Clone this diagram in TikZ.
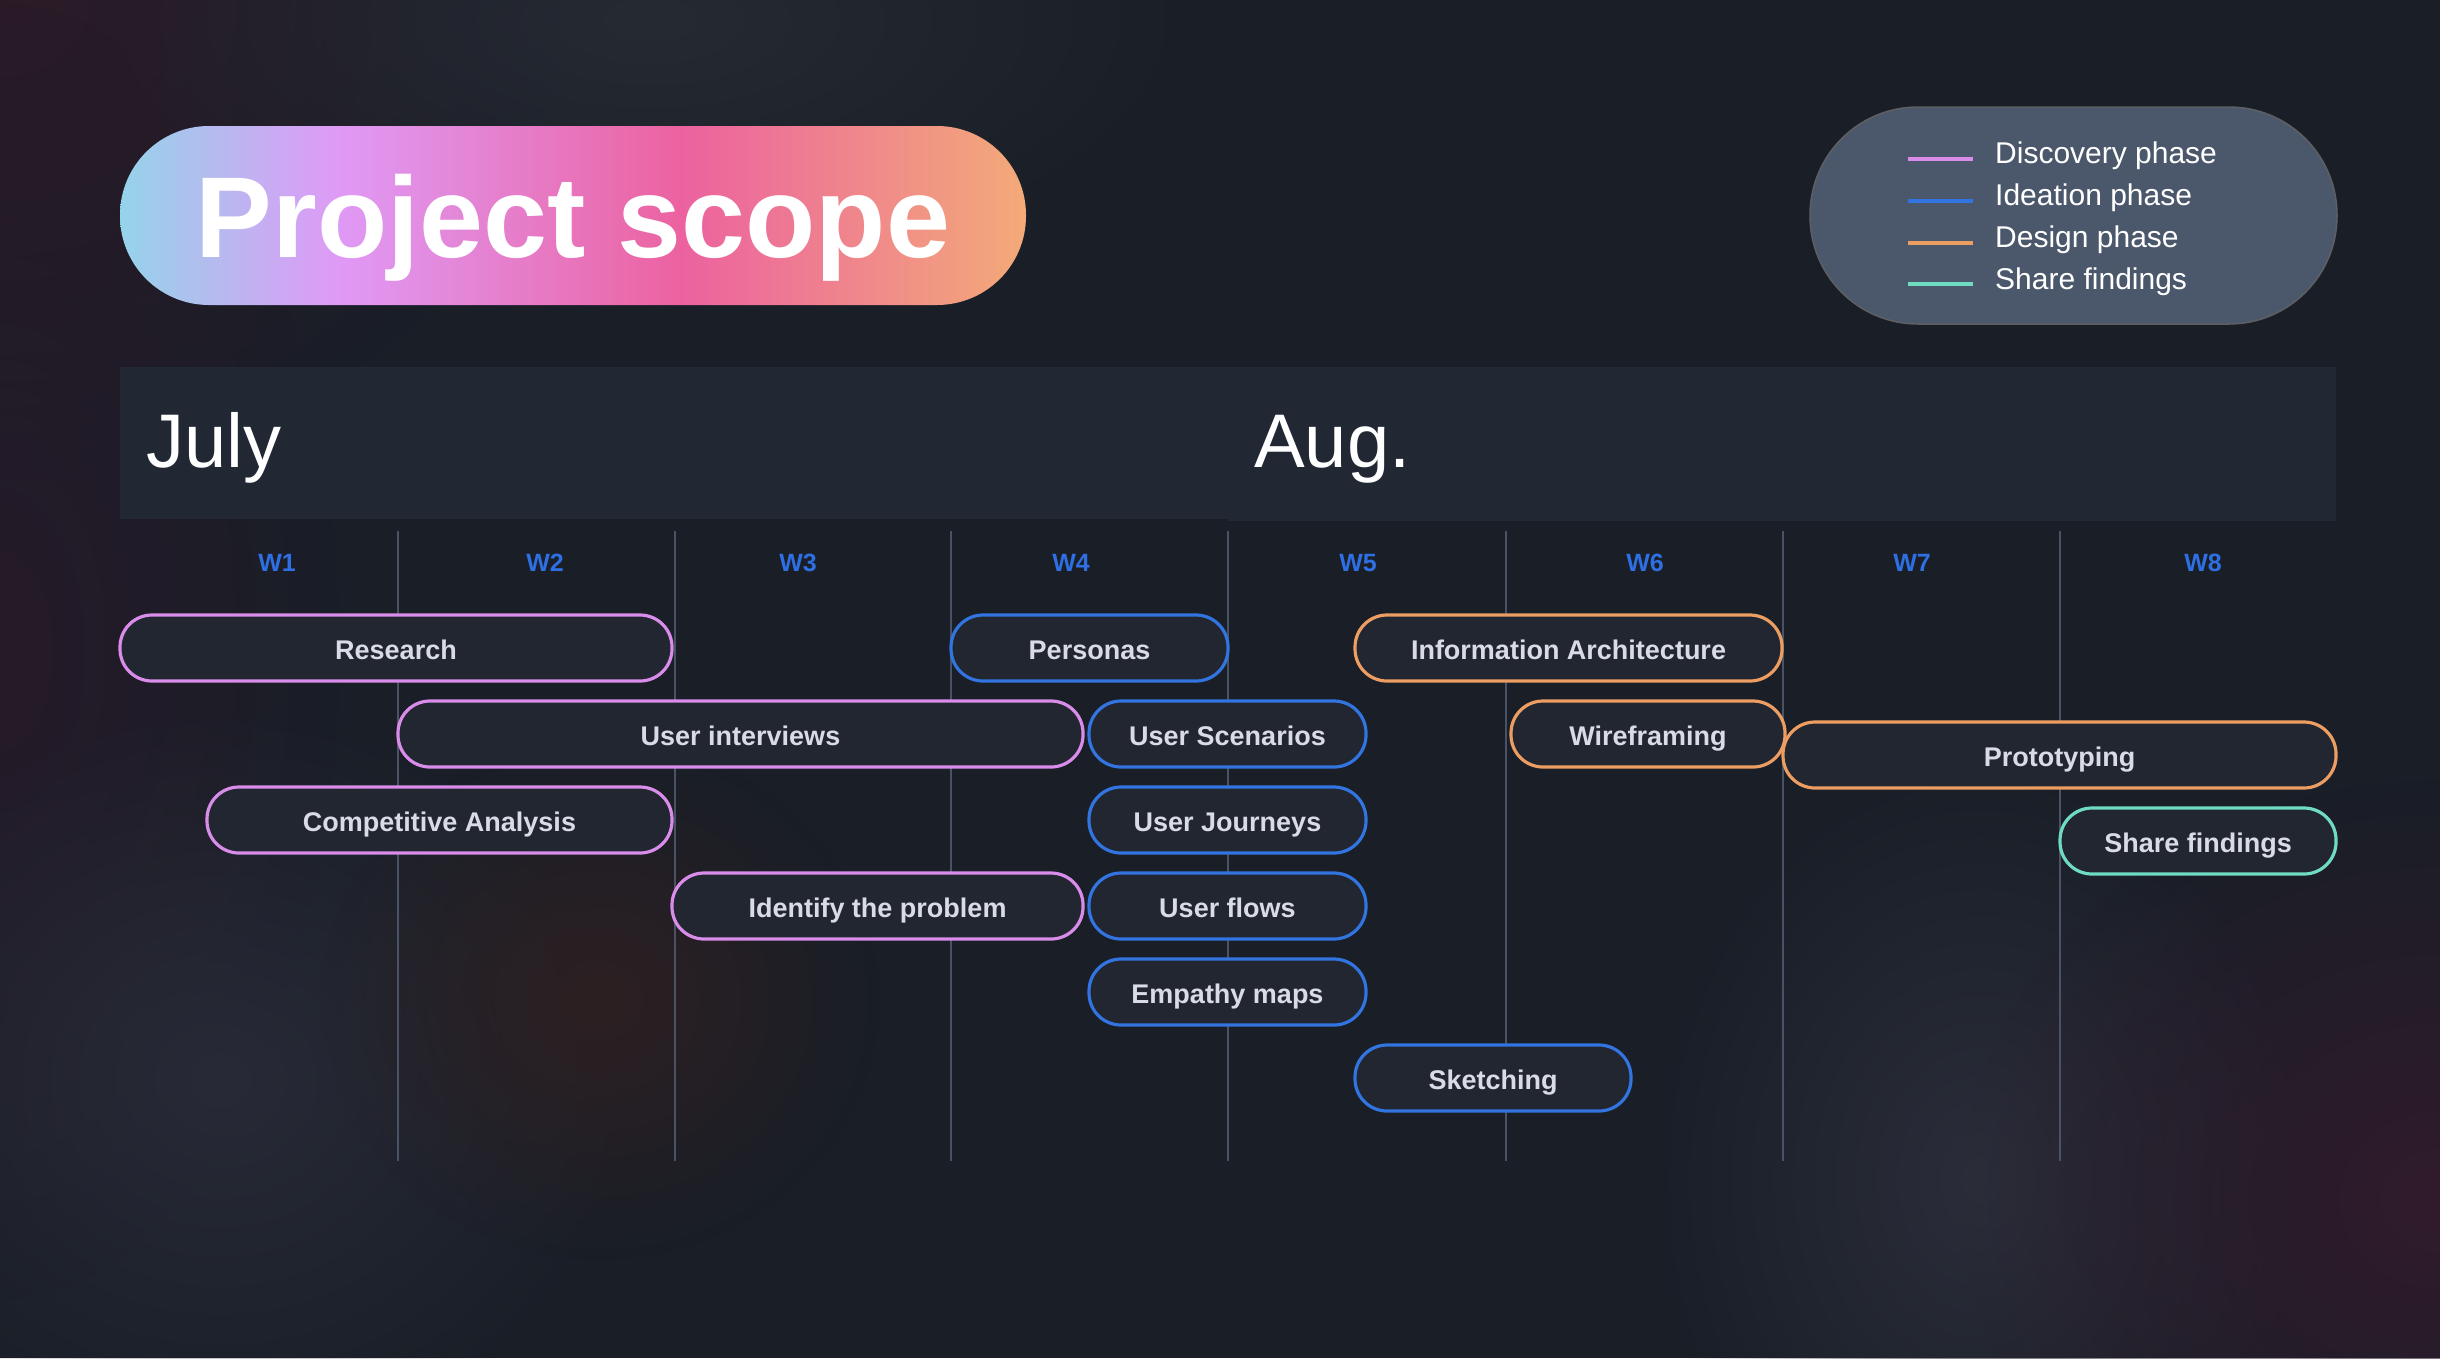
\documentclass[tikz,border=0pt]{standalone}
\usepackage{fontspec}
\setmainfont{Liberation Sans}
\usetikzlibrary{fadings}
\tikzfading[name=blobfade, inner color=transparent!0, outer color=transparent!100]
\definecolor{bg}{HTML}{191E27}
\definecolor{band}{HTML}{222833}
\definecolor{gridc}{HTML}{4A5365}
\definecolor{weekc}{HTML}{2E6FE3}
\definecolor{pillfill}{HTML}{212630}
\definecolor{pilltext}{HTML}{D9DCE4}
\definecolor{disc}{HTML}{D98CEA}
\definecolor{idea}{HTML}{3274E0}
\definecolor{desg}{HTML}{EC9D62}
\definecolor{shar}{HTML}{6FDCC1}
\definecolor{legfill}{HTML}{4B586B}
\definecolor{legline}{HTML}{5E5F63}
\definecolor{tg1}{HTML}{95D3EA}
\definecolor{tg2}{HTML}{DF9AF6}
\definecolor{tg3}{HTML}{EC62A0}
\definecolor{tg4}{HTML}{F3AA78}
\definecolor{b1}{HTML}{2C1B27}
\definecolor{b2}{HTML}{261A29}
\definecolor{b3}{HTML}{282B37}
\definecolor{b4}{HTML}{2D2022}
\definecolor{b5}{HTML}{262A33}
\definecolor{b6}{HTML}{2B2E3A}
\definecolor{b7}{HTML}{311B2C}
\pgfdeclarehorizontalshading{titlegrad}{100bp}{color(0bp)=(tg1); color(25bp)=(tg1); color(37bp)=(tg2); color(56bp)=(tg3); color(75bp)=(tg4); color(100bp)=(tg4)}
\tikzset{
  pill/.style={draw=#1, line width=3.2pt, fill=pillfill, rounded corners=32pt,
    minimum height=66pt, inner sep=0pt, text=pilltext, text height=22pt, text depth=0pt,
    font=\fontsize{27}{30}\selectfont\bfseries},
  weeklbl/.style={text=weekc, font=\fontsize{25}{28}\selectfont\bfseries, anchor=center, text height=18pt, text depth=0pt, inner sep=0pt},
  gridline/.style={draw=gridc, line width=2.4pt},
  legtext/.style={text=white, font=\fontsize{30}{34}\selectfont, anchor=west, inner sep=0pt},
  legbar/.style={line width=4.5pt},
  blob/.style={fill=#1, path fading=blobfade}
}
\begin{document}
\begin{tikzpicture}[x=1pt,y=-1pt]
\useasboundingbox (0,0) rectangle (2440,1358);
% background
\fill[bg] (0,0) rectangle (2440,1358);
\fill[blob=b1] (0,0) ellipse [x radius=560, y radius=480];
\fill[blob=b2] (0,650) ellipse [x radius=340, y radius=650];
\fill[blob=b3] (220,1080) ellipse [x radius=420, y radius=380];
\fill[blob=b4] (600,1000) ellipse [x radius=280, y radius=260];
\fill[blob=b5] (650,20) ellipse [x radius=560, y radius=260];
\fill[blob=b6] (1980,1180) ellipse [x radius=330, y radius=420];
\fill[blob=b7] (2440,1200) ellipse [x radius=480, y radius=420];
% title pill
\shade[shading=titlegrad, shading angle=0, rounded corners=89pt] (120,126) rectangle (1026,305);
\node[text=white, font=\fontsize{115}{120}\selectfont\bfseries, anchor=base, inner sep=0pt] (title) at (573,257) {Project scope};
% legend
\node[draw=legline, line width=1.5pt, fill=legfill, rounded corners=108pt, minimum width=527pt, minimum height=217pt, inner sep=0pt] (legend) at (2073.5,215.5) {};
\draw[legbar, disc] (1908,159) -- (1973,159);
\draw[legbar, idea] (1908,201) -- (1973,201);
\draw[legbar, desg] (1908,243) -- (1973,243);
\draw[legbar, shar] (1908,284) -- (1973,284);
\node[legtext] (l1) at (1995,156) {Discovery phase};
\node[legtext] (l2) at (1995,198) {Ideation phase};
\node[legtext] (l3) at (1995,240) {Design phase};
\node[legtext] (l4) at (1995,282) {Share findings};
% month band
\fill[band] (120,367) rectangle (1228,519);
\fill[band] (1228,367) rectangle (2336,521);
\node[text=white, font=\fontsize{76}{80}\selectfont, anchor=base west, inner sep=0pt] (july) at (146,467) {July};
\node[text=white, font=\fontsize{76}{80}\selectfont, anchor=base west, inner sep=0pt] (aug) at (1254,467) {Aug.};
% grid lines
\foreach \gx in {398,675,951,1228,1506,1783,2060}{
  \draw[gridline] (\gx,531) -- (\gx,1161);
}
% week labels
\node[weeklbl] (w1) at (277,562) {W1};
\node[weeklbl] (w2) at (545,562) {W2};
\node[weeklbl] (w3) at (798,562) {W3};
\node[weeklbl] (w4) at (1071,562) {W4};
\node[weeklbl] (w5) at (1358,562) {W5};
\node[weeklbl] (w6) at (1645,562) {W6};
\node[weeklbl] (w7) at (1912,562) {W7};
\node[weeklbl] (w8) at (2203,562) {W8};
% pills
\node[pill=disc, minimum width=552pt] (research) at (396,648) {Research};
\node[pill=idea, minimum width=277pt] (personas) at (1089.5,648) {Personas};
\node[pill=desg, minimum width=427pt] (infoarch) at (1568.5,648) {Information Architecture};
\node[pill=disc, minimum width=685pt] (interviews) at (740.5,734) {User interviews};
\node[pill=idea, minimum width=277pt] (scenarios) at (1227.5,734) {User Scenarios};
\node[pill=desg, minimum width=274pt] (wire) at (1648,734) {Wireframing};
\node[pill=desg, minimum width=553pt] (proto) at (2059.5,755) {Prototyping};
\node[pill=disc, minimum width=465pt] (compet) at (439.5,820) {Competitive Analysis};
\node[pill=idea, minimum width=277pt] (journeys) at (1227.5,820) {User Journeys};
\node[pill=shar, minimum width=276pt] (share) at (2198,841) {Share findings};
\node[pill=disc, minimum width=411pt] (identify) at (877.5,906) {Identify the problem};
\node[pill=idea, minimum width=277pt] (flows) at (1227.5,906) {User flows};
\node[pill=idea, minimum width=277pt] (empathy) at (1227.5,992) {Empathy maps};
\node[pill=idea, minimum width=276pt] (sketch) at (1493,1078) {Sketching};
\end{tikzpicture}
\end{document}
